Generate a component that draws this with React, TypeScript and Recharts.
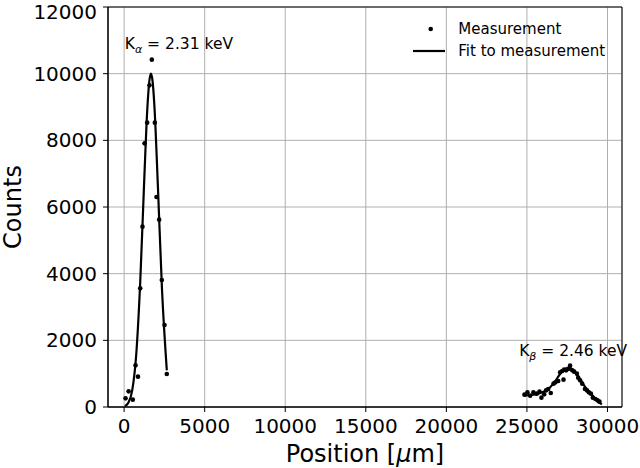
import {
  ComposedChart, XAxis, YAxis, CartesianGrid, Scatter, Line, ReferenceDot, ReferenceArea, Legend,
} from 'recharts';

const FONT = '"DejaVu Sans", Verdana, sans-serif';

// K-alpha peak, measured points
const kaPosition = [90, 280, 540, 710, 860, 1000, 1140, 1270, 1430, 1575, 1720, 1905, 2010, 2175, 2340, 2510, 2650];
const kaCounts = [260, 470, 220, 1250, 910, 3560, 5410, 7910, 8530, 9650, 10420, 8530, 6300, 5620, 3810, 2460, 990];

// K-beta peak, measured points
const kbPosition = [
  24845, 25030, 25200, 25400, 25610, 25780, 25900, 26070, 26190, 26320, 26480, 26650, 26770, 26940, 27060, 27190,
  27270, 27310, 27430, 27560, 27680, 27810, 27930, 28100, 28180, 28300, 28430, 28600, 28720, 28840, 28970, 29090,
  29250, 29380, 29500,
];
const kbCounts = [
  370, 440, 340, 440, 400, 460, 280, 380, 500, 540, 420, 700, 740, 780, 1040, 1080,
  820, 1120, 1100, 1140, 1240, 1100, 1060, 1000, 880, 800, 700, 540, 500, 440, 400, 280,
  240, 200, 160,
];

// fit curves
const kaFitPosition = [50, 250, 500, 750, 1000, 1250, 1450, 1560, 1665, 1770, 1880, 2100, 2350, 2650];
const kaFitCounts = [25, 120, 490, 1560, 3750, 6830, 9030, 9750, 10000, 9760, 9030, 6580, 3540, 1100];
const kbFitPosition = [24850, 25250, 25750, 26250, 26750, 27100, 27400, 27600, 27900, 28300, 28600, 28950, 29300, 29650];
const kbFitCounts = [340, 360, 410, 510, 770, 1020, 1150, 1180, 1100, 830, 610, 420, 210, 80];

const xTicks = [0, 5000, 10000, 15000, 20000, 25000, 30000];
const yTicks = [0, 2000, 4000, 6000, 8000, 10000, 12000];

const pts = (xs: number[], ys: number[]) => xs.map((x, i) => ({ x, y: ys[i] }));
const kaPoints = pts(kaPosition, kaCounts);
const kbPoints = pts(kbPosition, kbCounts);
const kaFit = pts(kaFitPosition, kaFitCounts);
const kbFit = pts(kbFitPosition, kbFitCounts);

const dotShape = (p: any) => <circle cx={p.cx} cy={p.cy} r={2.3} fill="#000" />;

function peakLabel(sub: string, rest: string) {
  return (props: any) => {
    const vb = props.viewBox || {};
    const cx = vb.x + (vb.width || 0) / 2;
    const cy = vb.y + (vb.height || 0) / 2;
    return (
      <text x={cx} y={cy} textAnchor="middle" fontSize={15.5} fontFamily={FONT} fill="#000">
        K<tspan fontSize={11} dy={3.5} fontStyle="italic">{sub}</tspan>
        <tspan dy={-3.5}>{rest}</tspan>
      </text>
    );
  };
}

function LegendBox() {
  return (
    <svg width={230} height={52} style={{ display: 'block', overflow: 'visible' }}>
      <circle cx={25.7} cy={17} r={2.3} fill="#000" />
      <line x1={8} x2={40} y1={39} y2={39} stroke="#000" strokeWidth={2.2} />
      <text x={53.3} y={22} fontSize={15} fontFamily={FONT} fill="#000">Measurement</text>
      <text x={53.3} y={44} fontSize={15} fontFamily={FONT} fill="#000">Fit to measurement</text>
    </svg>
  );
}

export default function App() {
  const tick = { fill: '#000', fontSize: 20, fontFamily: FONT };
  return (
    <div style={{ position: 'absolute', left: 0, top: 0, width: 640, height: 468, background: '#fff' }}>
      <ComposedChart width={640} height={468} margin={{ top: 7, right: 18, bottom: 0, left: 0 }}>
        <CartesianGrid stroke="#b0b0b0" strokeWidth={1} />
        <XAxis
          type="number" dataKey="x" domain={[-1000, 30900]} ticks={xTicks} allowDataOverflow
          height={61} tick={tick} tickSize={5} tickMargin={7}
          axisLine={{ stroke: '#000' }} tickLine={{ stroke: '#000' }}
          label={(p: any) => {
            const vb = p.viewBox;
            return (
              <text x={vb.x + vb.width / 2} y={461.7} textAnchor="middle" fontSize={24} fontFamily={FONT} fill="#000">
                Position [<tspan fontStyle="italic">μ</tspan>m]
              </text>
            );
          }}
        />
        <YAxis
          type="number" dataKey="y" domain={[0, 12000]} ticks={yTicks} allowDataOverflow
          width={108} tick={tick} tickSize={5} tickMargin={6}
          axisLine={{ stroke: '#000' }} tickLine={{ stroke: '#000' }}
          label={(p: any) => {
            const vb = p.viewBox;
            const cy = vb.y + vb.height / 2;
            return (
              <text x={21} y={cy} transform={`rotate(-90, 21, ${cy})`} textAnchor="middle" fontSize={24} fontFamily={FONT} fill="#000">
                Counts
              </text>
            );
          }}
        />
        <Line data={kaFit} dataKey="y" type="monotone" stroke="#000" strokeWidth={2.2} dot={false} isAnimationActive={false} legendType="none" />
        <Line data={kbFit} dataKey="y" type="monotone" stroke="#000" strokeWidth={2.2} dot={false} isAnimationActive={false} legendType="none" />
        <Scatter data={kaPoints} shape={dotShape} isAnimationActive={false} legendType="none" />
        <Scatter data={kbPoints} shape={dotShape} isAnimationActive={false} legendType="none" />
        <ReferenceDot x={3400} y={10740} r={0} fill="none" stroke="none" label={peakLabel('α', ' = 2.31 keV')} />
        <ReferenceDot x={27870} y={1520} r={0} fill="none" stroke="none" label={peakLabel('β', ' = 2.46 keV')} />
        <ReferenceArea x1={-1000} x2={30900} y1={0} y2={12000} fill="none" stroke="#000" strokeWidth={1} ifOverflow="visible" />
        <Legend
          layout="vertical" align="center" verticalAlign="middle"
          wrapperStyle={{ left: 405, top: 12, width: 230 }}
          content={() => <LegendBox />}
        />
      </ComposedChart>
    </div>
  );
}
